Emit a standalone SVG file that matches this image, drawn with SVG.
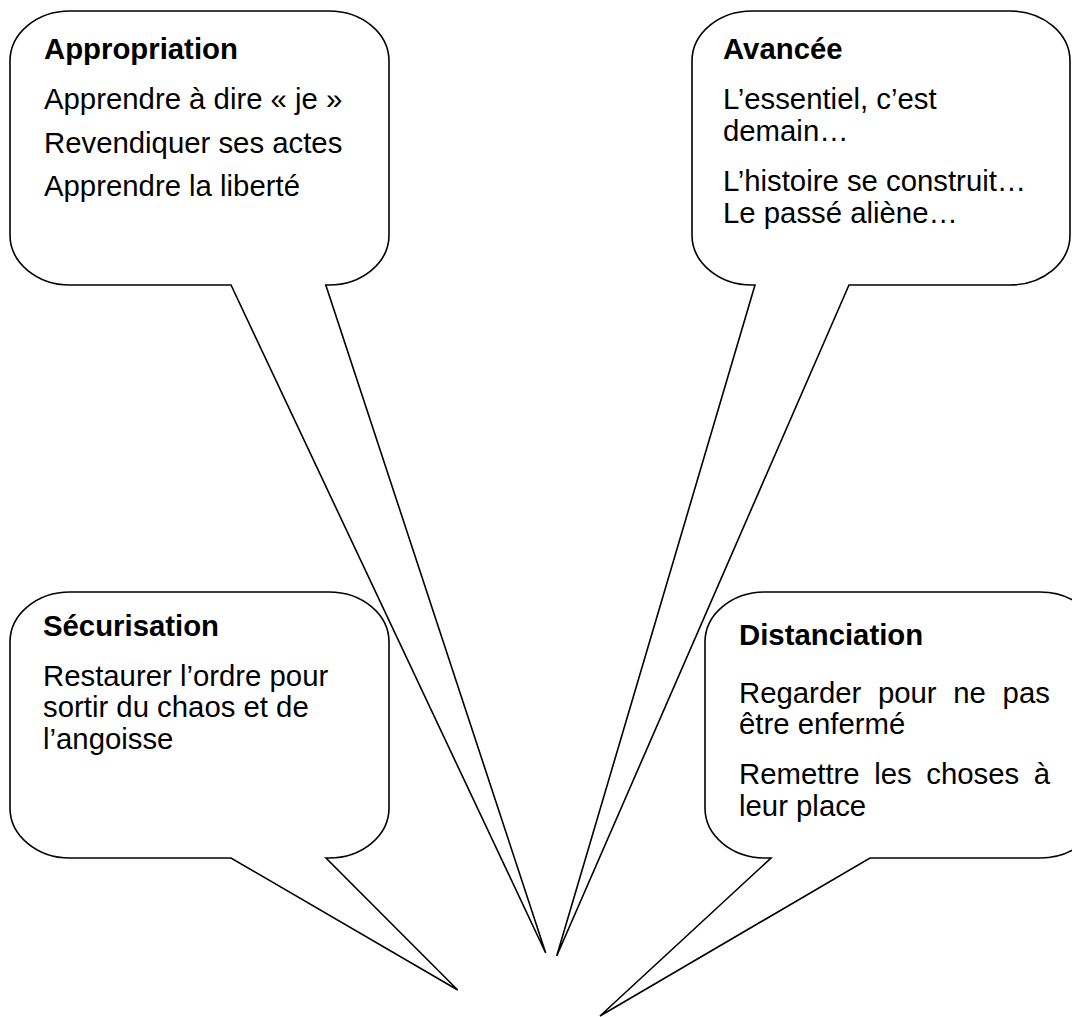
<svg xmlns="http://www.w3.org/2000/svg" width="1072" height="1017" viewBox="0 0 1072 1017">
<style>
.bubble{fill:#ffffff;stroke:#000000;stroke-width:1.6;stroke-linejoin:miter}
.t{font-family:"Liberation Sans",Arial,sans-serif;font-size:29.33px;fill:#000000}
.h{font-weight:bold}
</style>
<rect width="1072" height="1017" fill="#ffffff"/>
<g id="connectors"></g>
<g id="appropriation">
<path class="bubble" d="M70,11 H329 A60 50 0 0 1 389,61 V235 A60 50 0 0 1 329,285 H325.8 L545.7,953 L231,285 H70 A60 50 0 0 1 10,235 V61 A60 50 0 0 1 70,11 Z"/>
<text class="t h" x="44" y="59">Appropriation</text>
<text class="t" x="44" y="109">Apprendre à dire « je »</text>
<text class="t" x="44" y="152.5">Revendiquer ses actes</text>
<text class="t" x="44" y="196">Apprendre la liberté</text>
</g>
<g id="avancee">
<path class="bubble" d="M752,11 H1010 A60 50 0 0 1 1070,61 V235 A60 50 0 0 1 1010,285 H849 L556.7,956 L755,285 H752 A60 50 0 0 1 692,235 V61 A60 50 0 0 1 752,11 Z"/>
<text class="t h" x="723" y="59">Avancée</text>
<text class="t" x="723" y="108.5">L’essentiel, c’est</text>
<text class="t" x="723" y="140.8">demain…</text>
<text class="t" x="723" y="190.7">L’histoire se construit…</text>
<text class="t" x="723" y="222.7">Le passé aliène…</text>
</g>
<g id="securisation">
<path class="bubble" d="M70,592 H329 A60 50 0 0 1 389,642 V808 A60 50 0 0 1 329,858 H326 L457.7,990 L231,858 H70 A60 50 0 0 1 10,808 V642 A60 50 0 0 1 70,592 Z"/>
<text class="t h" x="43" y="636">Sécurisation</text>
<text class="t" x="43" y="686">Restaurer l’ordre pour</text>
<text class="t" x="43" y="717.3">sortir du chaos et de</text>
<text class="t" x="43" y="749.3">l’angoisse</text>
</g>
<g id="distanciation">
<path class="bubble" d="M765,592 H1040 A60 50 0 0 1 1100,642 V808 A60 50 0 0 1 1040,858 H870 L600,1016 L771,858 H765 A60 50 0 0 1 705,808 V642 A60 50 0 0 1 765,592 Z"/>
<text class="t h" x="739" y="645">Distanciation</text>
<text class="t" y="702.7"><tspan x="739">Regarder</tspan><tspan x="877.9">pour</tspan><tspan x="953.3">ne</tspan><tspan x="1002.6">pas</tspan></text>
<text class="t" x="739" y="734">être enfermé</text>
<text class="t" y="784"><tspan x="739">Remettre</tspan><tspan x="874.2">les</tspan><tspan x="926.3">choses</tspan><tspan x="1033.8">à</tspan></text>
<text class="t" x="739" y="816">leur place</text>
</g>
</svg>
